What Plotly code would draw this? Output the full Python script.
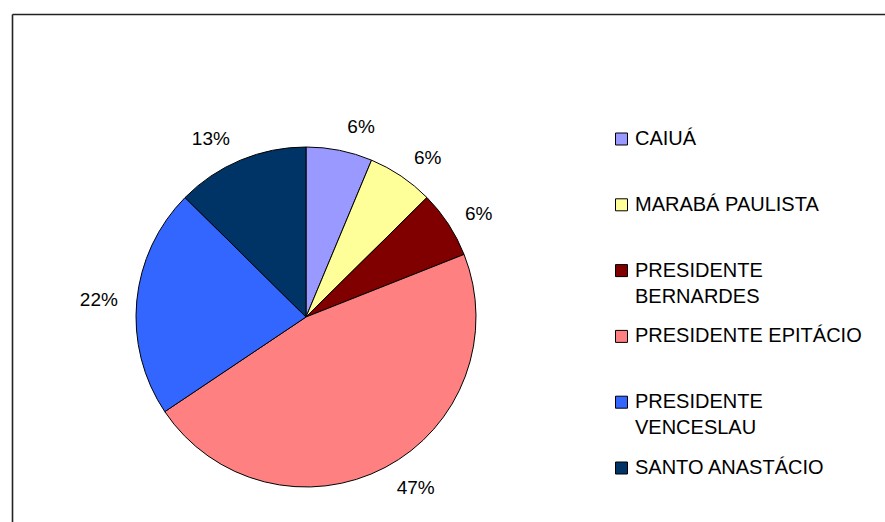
import plotly.graph_objects as go

# Data (% of total)
cidades = ["CAIUÁ", "MARABÁ PAULISTA", "PRESIDENTE BERNARDES",
           "PRESIDENTE EPITÁCIO", "PRESIDENTE VENCESLAU", "SANTO ANASTÁCIO"]
legenda = ["CAIUÁ", "MARABÁ PAULISTA", "PRESIDENTE<br>BERNARDES",
           "PRESIDENTE EPITÁCIO", "PRESIDENTE<br>VENCESLAU", "SANTO ANASTÁCIO"]
valores = [6.3, 6.3, 6.4, 46.6, 21.8, 12.6]
cores = ["#9999FF", "#FFFF99", "#800000", "#FF8080", "#3366FF", "#003366"]

W, H = 885, 522
FONT = "Liberation Sans, Arial, sans-serif"

# pie geometry (pixels)
CX, CY, R = 306, 317, 170
PULL = 0.08   # only used to push the % labels a bit further out


def dom(cx, cy, r):
    return dict(x=[(cx - r) / W, (cx + r) / W], y=[1 - (cy + r) / H, 1 - (cy - r) / H])


def px(x, y):
    return x / W, 1 - y / H


pie = go.Pie(
    labels=cidades,
    values=valores,
    sort=False,
    direction="clockwise",
    rotation=0,
    textinfo="none",
    marker=dict(colors=cores, line=dict(color="black", width=1)),
    domain=dom(CX, CY, R),
    showlegend=False,
    hoverinfo="label+percent",
)

# invisible copy, pulled out, that only carries the outside labels
rotulos = go.Pie(
    labels=cidades,
    values=valores,
    sort=False,
    direction="clockwise",
    rotation=0,
    pull=PULL,
    textposition="outside",
    texttemplate="%{percent:.0%}",
    textfont=dict(family=FONT, size=19, color="black"),
    marker=dict(colors=["rgba(0,0,0,0)"] * len(cidades), line=dict(width=0)),
    domain=dom(CX, CY, R * (1 + PULL)),
    showlegend=False,
    hoverinfo="skip",
)

fig = go.Figure([pie, rotulos])

# moldura do grafico: so as bordas esquerda e de cima aparecem
x0, ytop = px(12.5, 14.5)
shapes = [
    dict(type="line", xref="paper", yref="paper", x0=x0, x1=x0, y0=-0.05, y1=ytop,
         line=dict(color="#222222", width=1.6)),
    dict(type="line", xref="paper", yref="paper", x0=x0, x1=1.05, y0=ytop, y1=ytop,
         line=dict(color="#222222", width=1.6)),
]
annotations = []

# legenda manual (espacamento largo como no original)
for i, (nome, cor) in enumerate(zip(legenda, cores)):
    yc = 139 + i * 65.8   # centro da primeira linha
    shapes.append(dict(type="rect", xref="paper", yref="paper",
                       x0=615.5 / W, x1=627.5 / W,
                       y0=1 - (yc + 6) / H, y1=1 - (yc - 6) / H,
                       line=dict(color="black", width=1), fillcolor=cor))
    annotations.append(dict(xref="paper", yref="paper", x=633 / W, y=1 - (yc - 14) / H,
                            text=nome, showarrow=False, xanchor="left", yanchor="top",
                            align="left", font=dict(family=FONT, size=20, color="black")))

fig.update_layout(
    width=W, height=H,
    margin=dict(l=0, r=0, t=0, b=0, autoexpand=False),
    paper_bgcolor="white",
    plot_bgcolor="white",
    shapes=shapes,
    annotations=annotations,
    font=dict(family=FONT),
)

fig.write_html("out.html", config={"displayModeBar": False},
               post_script="document.body.style.margin='0px';")
